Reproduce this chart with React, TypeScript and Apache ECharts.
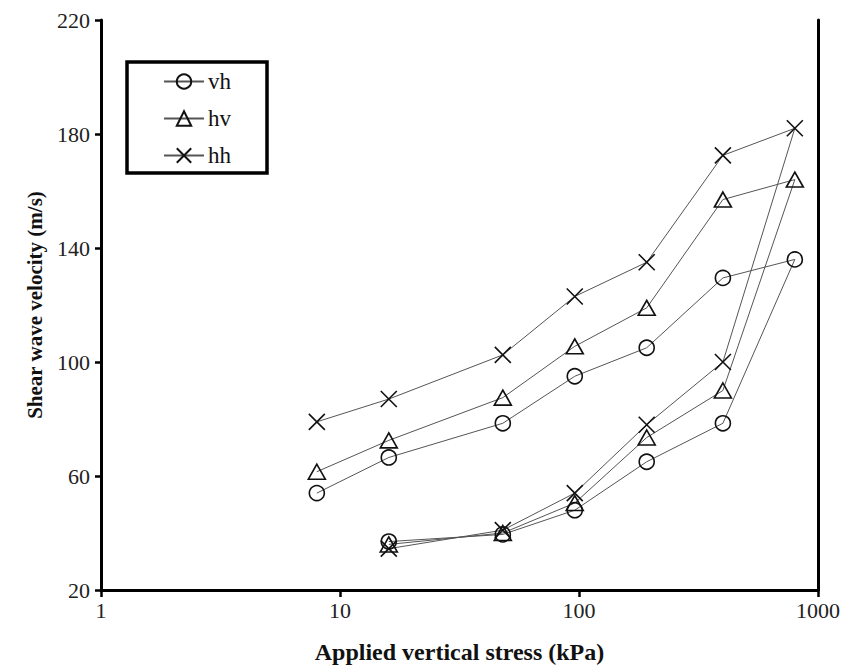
import React, { useEffect, useRef } from "react";
import * as echarts from "echarts";

const stress = [16, 48, 96, 192, 400, 800, 400, 192, 96, 48, 16, 8];
const vh = [37, 39.5, 48, 65, 78.5, 136, 129.5, 105, 95, 78.5, 66.5, 54];
const hv = [36, 40, 50.5, 73.5, 90, 164, 157, 119, 105.5, 87.5, 72.5, 61.5];
const hh = [34.5, 41, 54, 78, 100, 182, 172.5, 135, 123, 102.5, 87, 79];
const seriesNames = ["vh", "hv", "hh"];

const FONT = "'Liberation Serif', 'Times New Roman', serif";

export default function App() {
  const ref = useRef<HTMLDivElement>(null);
  useEffect(() => {
    document.body.style.margin = "0";
    if (!ref.current) return;
    const chart = echarts.init(ref.current, null, { renderer: "svg" });
    const mk = (name: string, vals: number[], symbol: string, size: any) => ({
      name,
      type: "line",
      data: stress.map((x, i) => [x, vals[i]]),
      symbol,
      symbolSize: size,
      showSymbol: true,
      lineStyle: { color: "#555", width: 1 },
      itemStyle: { color: "rgba(0,0,0,0)", borderColor: "#111", borderWidth: 1.6 },
      emphasis: { disabled: true },
      z: 3,
    });
    chart.setOption({
      animation: false,
      backgroundColor: "#fff",
      textStyle: { fontFamily: FONT },
      grid: { left: 101, right: 26, top: 20, bottom: 80, containLabel: false },
      legend: {
        orient: "vertical",
        left: 127,
        top: 62,
        data: seriesNames,
        itemWidth: 40,
        itemHeight: 18,
        itemGap: 14,
        padding: [8, 36, 6, 36],
        borderColor: "#000",
        borderWidth: 3.5,
        backgroundColor: "#fff",
        textStyle: { fontFamily: FONT, fontSize: 23, color: "#111", padding: [0, 0, 0, -1] },
        selectedMode: false,
      },
      xAxis: {
        type: "log",
        logBase: 10,
        min: 1,
        max: 1000,
        name: "Applied vertical stress (kPa)",
        nameLocation: "middle",
        nameGap: 50,
        nameTextStyle: { fontFamily: FONT, fontSize: 24, fontWeight: "bold", color: "#111" },
        axisLine: { show: true, lineStyle: { color: "#000", width: 3 } },
        axisTick: { show: true, inside: false, length: 7, lineStyle: { color: "#000", width: 2.5 } },
        minorTick: { show: false },
        axisLabel: { fontFamily: FONT, fontSize: 22, color: "#222", margin: 9, formatter: (v: number) => String(Math.round(v)) },
        splitLine: { show: false },
      },
      yAxis: [
        {
          type: "value",
          min: 20,
          max: 220,
          interval: 40,
          name: "Shear wave velocity (m/s)",
          nameLocation: "middle",
          nameGap: 56,
          nameRotate: 90,
          nameTextStyle: { fontFamily: FONT, fontSize: 21, fontWeight: "bold", color: "#111" },
          axisLine: { show: true, lineStyle: { color: "#000", width: 3 } },
          axisTick: { show: true, inside: false, length: 6, lineStyle: { color: "#000", width: 2.5 } },
          axisLabel: { fontFamily: FONT, fontSize: 22, color: "#222", margin: 11 },
          splitLine: { show: false },
        },
        {
          type: "value",
          min: 20,
          max: 220,
          position: "right",
          axisLine: { show: true, lineStyle: { color: "#000", width: 3 } },
          axisTick: { show: false },
          axisLabel: { show: false },
          splitLine: { show: false },
        },
      ],
      series: [
        mk("vh", vh, "circle", 15),
        mk("hv", hv, "triangle", [17, 15]),
        mk("hh", hh, "path://M0,0L10,10M10,0L0,10", 16),
      ],
    });
    return () => chart.dispose();
  }, []);
  return <div ref={ref} style={{ width: 844, height: 670 }} />;
}
